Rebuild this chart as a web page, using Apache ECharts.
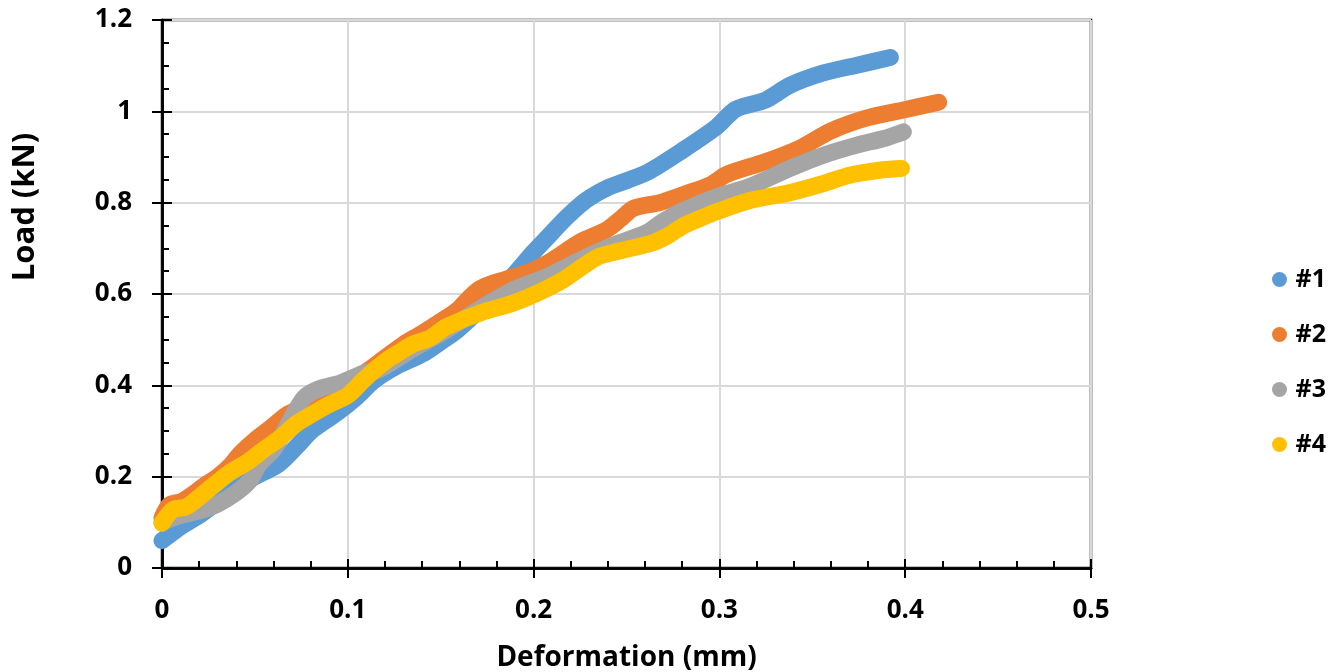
<!DOCTYPE html>
<html>
<head>
<meta charset="utf-8">
<script src="https://cdn.jsdelivr.net/npm/echarts@6/dist/echarts.min.js"></script>
<style>html,body{margin:0;padding:0;background:#fff}#c{width:1341px;height:672px}</style>
</head>
<body>
<div id="c"></div>
<script>
const seriesNames = ['#1', '#2', '#3', '#4'];
const seriesColors = ['#5B9BD5', '#ED7D31', '#A5A5A5', '#FFC000'];

const x1 = [0, 0.004, 0.01, 0.02, 0.03, 0.04, 0.05, 0.056, 0.063, 0.0725, 0.081, 0.094, 0.105, 0.114, 0.126, 0.141, 0.15, 0.159, 0.17, 0.18, 0.19, 0.2, 0.21, 0.218, 0.2285, 0.24, 0.25, 0.262, 0.28, 0.2985, 0.309, 0.325, 0.338, 0.356, 0.374, 0.392];
const y1 = [0.06, 0.072, 0.09, 0.115, 0.145, 0.175, 0.2, 0.212, 0.228, 0.266, 0.302, 0.339, 0.375, 0.41, 0.441, 0.47, 0.495, 0.521, 0.562, 0.603, 0.645, 0.692, 0.735, 0.769, 0.806, 0.833, 0.848, 0.868, 0.914, 0.966, 1.005, 1.025, 1.057, 1.084, 1.101, 1.118];

const x2 = [0, 0.004, 0.01, 0.016, 0.022, 0.03, 0.037, 0.042, 0.05, 0.058, 0.067, 0.072, 0.08, 0.09, 0.1, 0.11, 0.12, 0.13, 0.14, 0.15, 0.159, 0.165, 0.171, 0.177, 0.185, 0.198, 0.21, 0.225, 0.239, 0.247, 0.254, 0.268, 0.28, 0.295, 0.304, 0.325, 0.343, 0.36, 0.379, 0.399, 0.418];
const y2 = [0.11, 0.138, 0.145, 0.16, 0.178, 0.2, 0.225, 0.25, 0.28, 0.305, 0.335, 0.345, 0.36, 0.385, 0.405, 0.43, 0.46, 0.49, 0.514, 0.54, 0.565, 0.59, 0.611, 0.622, 0.632, 0.649, 0.674, 0.714, 0.74, 0.765, 0.788, 0.8, 0.817, 0.839, 0.862, 0.89, 0.919, 0.957, 0.985, 1.003, 1.02];

const x3 = [0, 0.01, 0.02, 0.03, 0.04, 0.047, 0.052, 0.06, 0.066, 0.072, 0.077, 0.085, 0.096, 0.108, 0.117, 0.135, 0.153, 0.17, 0.189, 0.207, 0.225, 0.243, 0.261, 0.27, 0.28, 0.2985, 0.316, 0.338, 0.356, 0.374, 0.388, 0.399];
const y3 = [0.1, 0.115, 0.125, 0.14, 0.165, 0.19, 0.225, 0.26, 0.3, 0.345, 0.375, 0.393, 0.405, 0.426, 0.435, 0.48, 0.521, 0.565, 0.609, 0.638, 0.674, 0.707, 0.735, 0.76, 0.782, 0.813, 0.835, 0.875, 0.904, 0.926, 0.94, 0.955];

const x4 = [0, 0.006, 0.013, 0.02, 0.029, 0.037, 0.047, 0.055, 0.063, 0.072, 0.08, 0.09, 0.1, 0.108, 0.114, 0.12, 0.126, 0.135, 0.144, 0.153, 0.171, 0.189, 0.201, 0.216, 0.234, 0.246, 0.264, 0.272, 0.28, 0.29, 0.2985, 0.316, 0.338, 0.356, 0.37, 0.388, 0.398];
const y4 = [0.098, 0.128, 0.134, 0.155, 0.185, 0.21, 0.235, 0.26, 0.283, 0.315, 0.335, 0.358, 0.378, 0.41, 0.432, 0.452, 0.468, 0.49, 0.503, 0.528, 0.558, 0.58, 0.6, 0.631, 0.68, 0.694, 0.712, 0.727, 0.748, 0.766, 0.78, 0.804, 0.822, 0.842, 0.86, 0.872, 0.875];

const xTitle = 'Deformation (mm)';
const yTitle = 'Load (kN)';

const xs = [x1, x2, x3, x4];
const ys = [y1, y2, y3, y4];
const FONT = '"Open Sans", "Noto Sans", sans-serif';

const series = seriesNames.map((n, i) => ({
  name: n,
  type: 'line',
  xAxisIndex: 0,
  yAxisIndex: 0,
  showSymbol: false,
  symbol: 'circle',
  clip: false,
  smooth: 0.3,
  color: seriesColors[i],
  lineStyle: { width: 17, cap: 'round', join: 'round', color: seriesColors[i] },
  emphasis: { disabled: true },
  data: xs[i].map((x, k) => [x, ys[i][k]])
}));

const labelStyle = { fontSize: 26, fontWeight: 'bold', color: '#000', fontFamily: FONT };
const axisLineStyle = { show: true, lineStyle: { color: '#000', width: 2.5 } };

const chart = echarts.init(document.getElementById('c'), null, { renderer: 'canvas' });
chart.setOption({
  animation: false,
  backgroundColor: '#fff',
  grid: { left: 162, top: 20, right: 250, bottom: 104, outerBoundsMode: 'none', containLabel: false, show: true, borderColor: '#000', borderWidth: 2.5, backgroundColor: 'transparent' },
  legend: {
    data: seriesNames,
    orient: 'vertical',
    left: 1267,
    top: 262,
    icon: 'circle',
    itemWidth: 22,
    itemHeight: 15,
    itemGap: 30,
    textStyle: { fontSize: 25, fontWeight: 'bold', color: '#000', fontFamily: FONT }
  },
  xAxis: [
    {
      type: 'value', position: 'bottom', min: 0, max: 0.5, interval: 0.1,
      axisLine: axisLineStyle,
      axisTick: { show: true, inside: false, length: 10, lineStyle: { color: '#000', width: 2 } },
      axisLabel: Object.assign({ margin: 30 }, labelStyle),
      splitLine: { show: true, lineStyle: { color: '#d9d9d9', width: 2 } },
      name: xTitle, nameLocation: 'middle', nameGap: 76,
      nameTextStyle: { fontSize: 28, fontWeight: 'bold', color: '#000', fontFamily: FONT }
    },
    {
      type: 'value', position: 'bottom', min: 0, max: 0.5, interval: 0.1,
      axisLine: axisLineStyle,
      axisTick: { show: true, inside: true, length: 9, lineStyle: { color: '#000', width: 2 } },
      minorTick: { show: true, splitNumber: 5, length: 7, lineStyle: { color: '#000', width: 2 } },
      axisLabel: { show: false },
      splitLine: { show: false }
    }
  ],
  yAxis: [
    {
      type: 'value', position: 'left', min: 0, max: 1.2, interval: 0.2,
      axisLine: axisLineStyle,
      axisTick: { show: true, inside: false, length: 10, lineStyle: { color: '#000', width: 2 } },
      axisLabel: Object.assign({ margin: 30 }, labelStyle),
      splitLine: { show: true, lineStyle: { color: '#d9d9d9', width: 2 } }
    },
    {
      type: 'value', position: 'left', min: 0, max: 1.2, interval: 0.2,
      axisLine: axisLineStyle,
      axisTick: { show: true, inside: true, length: 10, lineStyle: { color: '#000', width: 2 } },
      minorTick: { show: true, splitNumber: 4, length: 7, lineStyle: { color: '#000', width: 2 } },
      axisLabel: { show: false },
      splitLine: { show: false }
    }
  ],
  graphic: [
    {
      type: 'text', x: 25, y: 207, rotation: Math.PI / 2,
      style: { text: yTitle, fontSize: 31, fontWeight: 'bold', fontFamily: FONT, fill: '#000', align: 'center', verticalAlign: 'middle' }
    }
  ],
  series: series
});
</script>
</body>
</html>
